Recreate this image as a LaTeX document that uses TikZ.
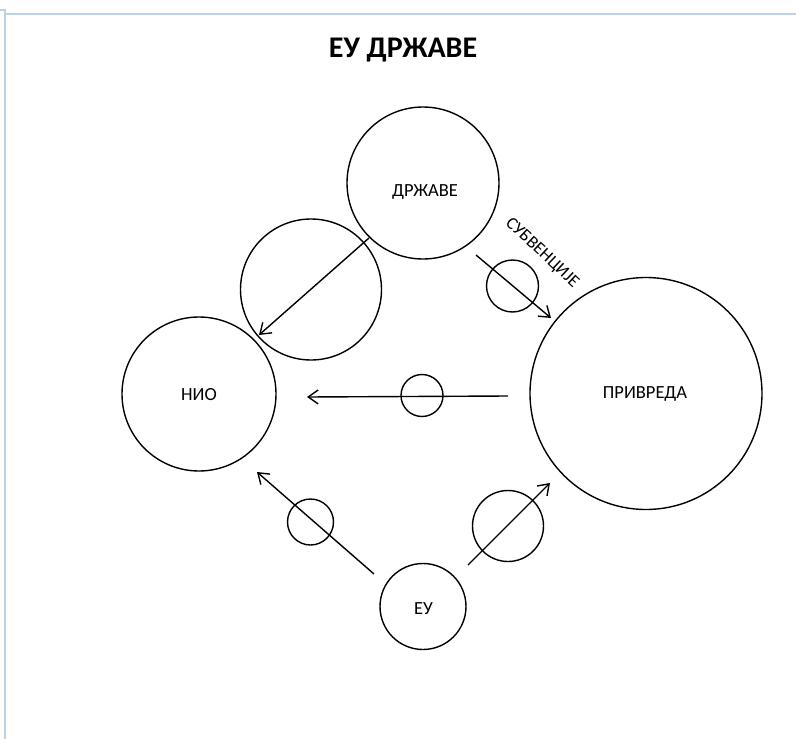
\documentclass[tikz,border=0pt]{standalone}
\usepackage{fontspec}
\setmainfont{Carlito}
\usetikzlibrary{arrows.meta}
\definecolor{frameblue}{HTML}{BCD0E8}
\begin{document}
\begin{tikzpicture}[x=1pt,y=-1pt,
  circ/.style={circle,draw,line width=1.4pt,inner sep=0pt,minimum size=#1},
  lbl/.style={font=\fontsize{18.5}{22}\selectfont,inner sep=0pt,anchor=base},
  arr/.style={line width=1.4pt,-{Straight Barb[length=10pt,width=14pt,line width=1.4pt]}},
  frame/.style={draw=frameblue,line width=1.6pt}
]
\useasboundingbox (0,0) rectangle (796,739);
% page frame
\coordinate (f0) at (0,10);
\coordinate (f1) at (5,10);
\coordinate (f2) at (5,739);
\coordinate (f3) at (6,14);
\coordinate (f4) at (796,14);
\draw[frame] (f0) -- (f1) -- (f2);
\draw[frame] (f3) -- (f4);
% title
\node[font=\bfseries\fontsize{30}{34}\selectfont,inner sep=0pt,anchor=base] (title) at (403,57) {ЕУ ДРЖАВЕ};
% circles
\node[circ=152] (drz) at (423,183) {};
\node[circ=141] (mid) at (311,289.5) {};
\node[circ=154] (nio) at (199,394) {};
\node[circ=232] (priv) at (646,393.5) {};
\node[circ=86] (eu) at (423,606.5) {};
\node[circ=52] (s1) at (512.5,286) {};
\node[circ=42] (s2) at (422,395.5) {};
\node[circ=46] (s3) at (310.5,522) {};
\node[circ=71] (s4) at (508,526) {};
% labels
\node[lbl] (tdrz) at (425,196) {ДРЖАВЕ};
\node[lbl] (tpriv) at (645,398) {ПРИВРЕДА};
\node[lbl] (tnio) at (199,400) {НИО};
\node[lbl] (teu) at (423.5,614) {ЕУ};
\node[font=\fontsize{17.5}{21}\selectfont,inner sep=0pt,rotate=-43] (tsub) at (542,253) {СУБВЕНЦИЈЕ};
% arrow ends
\coordinate (a1s) at (369,238);
\coordinate (a1e) at (259,335);
\coordinate (a2s) at (476,255);
\coordinate (a2e) at (551,318);
\coordinate (a3s) at (508,396);
\coordinate (a3e) at (307,397);
\coordinate (a4s) at (374,574);
\coordinate (a4e) at (257,472);
\coordinate (a5s) at (468,565);
\coordinate (a5e) at (550,483);
\draw[arr] (a1s) -- (a1e);
\draw[arr] (a2s) -- (a2e);
\draw[arr] (a3s) -- (a3e);
\draw[arr] (a4s) -- (a4e);
\draw[arr] (a5s) -- (a5e);
\end{tikzpicture}
\end{document}
